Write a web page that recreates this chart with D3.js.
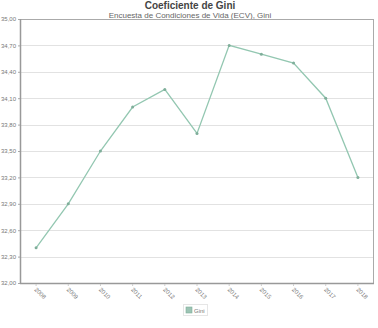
<!DOCTYPE html>
<html>
<head>
<meta charset="utf-8">
<script src="https://cdn.jsdelivr.net/npm/d3@7"></script>
<style>
  body { margin: 0; background: #fff; }
  svg { display: block; font-family: "Liberation Sans", Arial, sans-serif; }
</style>
</head>
<body>
<svg id="chart" width="378" height="328"></svg>
<script>
const d = document;

// Datos
const anios = ["2008", "2009", "2010", "2011", "2012", "2013", "2014", "2015", "2016", "2017", "2018"];
const gini = [32.4, 32.9, 33.5, 34.0, 34.2, 33.7, 34.7, 34.6, 34.5, 34.1, 33.2];
const ticksY = [32.0, 32.3, 32.6, 32.9, 33.2, 33.5, 33.8, 34.1, 34.4, 34.7, 35.0];

const titulo = "Coeficiente de Gini";
const subtitulo = "Encuesta de Condiciones de Vida (ECV), Gini";
const serie = "Gini";

const color = "#93c7b1";
const fmt = (v) => v.toFixed(2).replace(".", ",");

// Lienzo
const svg = d3.select("#chart");
const m = { left: 20, right: 4, top: 19, bottom: 45 };
const width = 378, height = 328;

const x = d3.scaleBand().domain(anios).range([m.left, width - m.right]);
const y = d3.scaleLinear().domain([32, 35]).range([height - m.bottom, m.top]);

// Titulos
svg.append("text")
  .attr("x", 190).attr("y", 9)
  .attr("text-anchor", "middle")
  .style("font-size", "10px").style("font-weight", "bold").style("fill", "#444")
  .text(titulo);

svg.append("text")
  .attr("x", 190).attr("y", 18)
  .attr("text-anchor", "middle")
  .style("font-size", "8px").style("fill", "#666")
  .text(subtitulo);

// Rejilla
svg.append("g")
  .selectAll("line")
  .data(ticksY)
  .enter()
  .append("line")
  .attr("x1", m.left).attr("x2", width - m.right)
  .attr("y1", (v) => Math.round(y(v)) + 0.5).attr("y2", (v) => Math.round(y(v)) + 0.5)
  .style("stroke", "#e2e2e2");

// Eje Y
const ejeY = svg.append("g")
  .attr("transform", `translate(${m.left},0)`)
  .call(d3.axisLeft(y).tickValues(ticksY).tickFormat(fmt).tickSize(2).tickPadding(2));
ejeY.select(".domain").remove();
ejeY.selectAll("text").style("font-size", "6px").style("fill", "#777");
ejeY.selectAll(".tick line").style("stroke", "#aaa");

// Marco
svg.append("rect")
  .attr("x", m.left + 0.5).attr("y", m.top + 0.5)
  .attr("width", width - m.left - m.right - 1).attr("height", height - m.top - m.bottom)
  .style("fill", "none").style("stroke", "#aaa");
svg.append("line")
  .attr("x1", m.left + 0.5).attr("x2", m.left + 0.5)
  .attr("y1", m.top).attr("y2", height - m.bottom + 1)
  .style("stroke", "#999").style("stroke-width", 1.5);
svg.append("line")
  .attr("x1", m.left).attr("x2", width - m.right)
  .attr("y1", height - m.bottom + 0.5).attr("y2", height - m.bottom + 0.5)
  .style("stroke", "#999").style("stroke-width", 1.5);

// Eje X
const ejeX = svg.append("g")
  .attr("transform", `translate(0,${height - m.bottom + 1})`)
  .call(d3.axisBottom(x).tickSize(2).tickPadding(4));
ejeX.select(".domain").remove();
ejeX.selectAll(".tick line").style("stroke", "#ccc");
ejeX.selectAll("text")
  .style("font-size", "6px").style("fill", "#777")
  .attr("text-anchor", "start")
  .attr("y", 0)
  .attr("dy", "0")
  .attr("transform", "translate(-2,6) rotate(45)");

// Linea
const puntos = anios.map((a, i) => ({ a, v: gini[i] }));
const linea = d3.line()
  .x((p) => x(p.a) + x.bandwidth() / 2)
  .y((p) => y(p.v));

svg.append("path")
  .datum(puntos)
  .attr("d", linea)
  .style("fill", "none").style("stroke", color).style("stroke-width", 1.3);

svg.append("g")
  .selectAll("circle")
  .data(puntos)
  .enter()
  .append("circle")
  .attr("cx", (p) => x(p.a) + x.bandwidth() / 2)
  .attr("cy", (p) => y(p.v))
  .attr("r", 1.5)
  .style("fill", "#7fae9a");

// Leyenda
const ley = svg.append("g").attr("transform", "translate(183,304)");
ley.append("rect")
  .attr("x", 0.5).attr("y", 0.5).attr("width", 24).attr("height", 11)
  .style("fill", "#fff").style("stroke", "#e6e6e6");
ley.append("rect")
  .attr("x", 3).attr("y", 3).attr("width", 6).attr("height", 6)
  .style("fill", "#9cc4b4").style("stroke", "#7fae9a").style("stroke-width", 0.6);
ley.append("text")
  .attr("x", 11).attr("y", 8.5)
  .style("font-size", "6px").style("fill", "#777")
  .text(serie);
</script>
</body>
</html>
